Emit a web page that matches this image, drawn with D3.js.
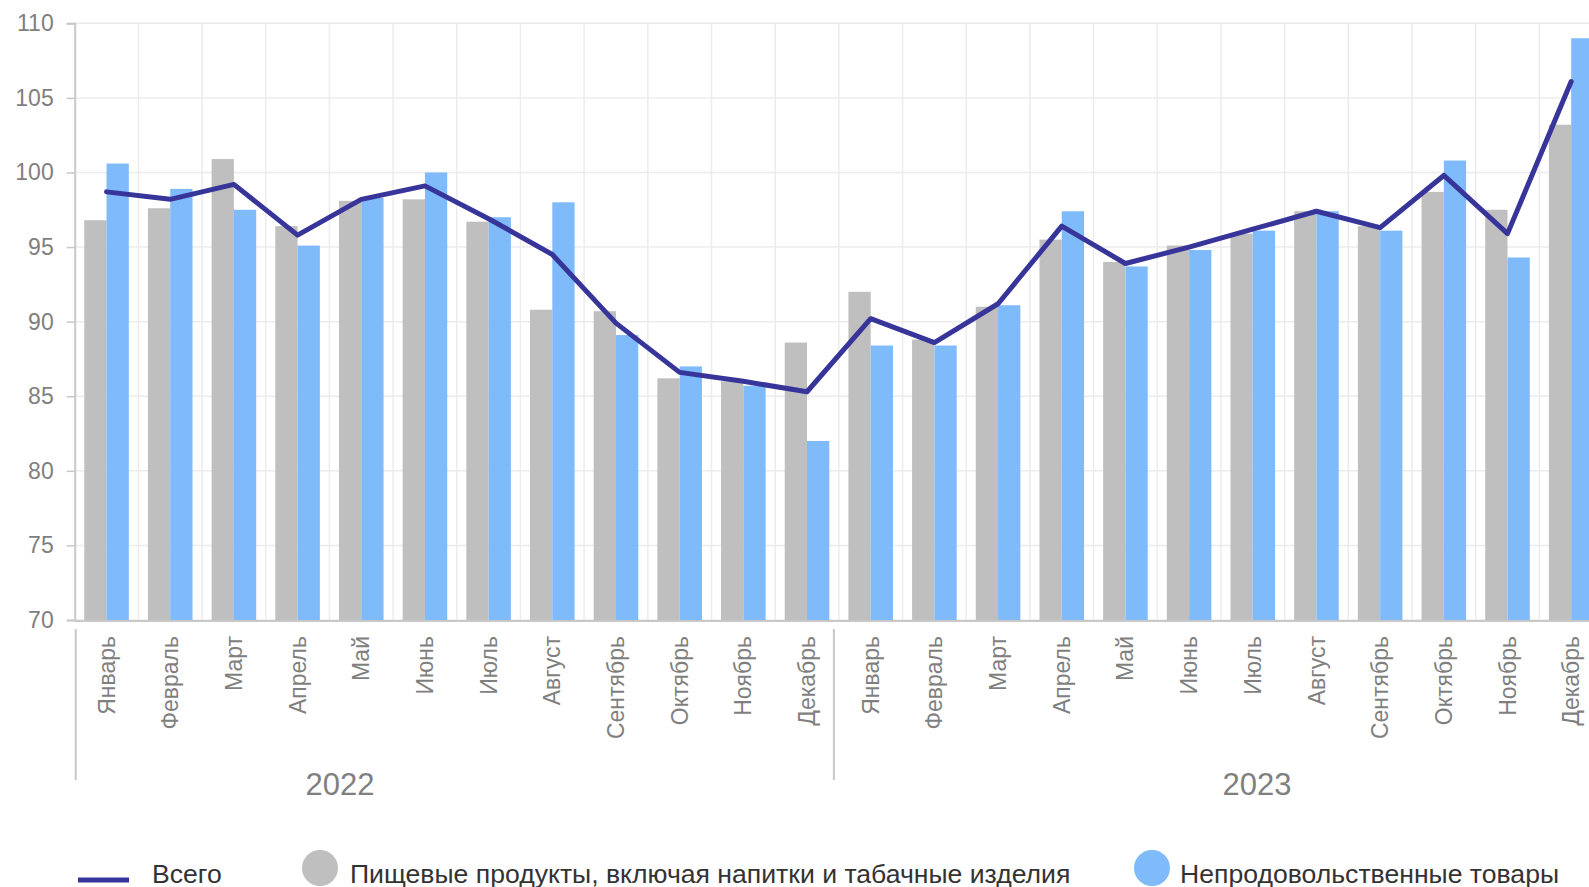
<!DOCTYPE html>
<html>
<head>
<meta charset="utf-8">
<script src="https://cdn.jsdelivr.net/npm/d3@7"></script>
<style>
  body { margin: 0; background: #fff; }
  svg { display: block; font-family: "Liberation Sans", Arial, sans-serif; }
  .grid line { stroke: #ececec; stroke-width: 1.5px; }
  .tick text { fill: #7f7f7f; }
</style>
</head>
<body>
<svg id="chart" width="1589" height="887"></svg>
<script>
var months = ["Январь","Февраль","Март","Апрель","Май","Июнь","Июль","Август","Сентябрь","Октябрь","Ноябрь","Декабрь"];
var years = ["2022","2023"];

// пищевые продукты (серые столбцы)
var food = [96.8, 97.6, 100.9, 96.4, 98.1, 98.2, 96.7, 90.8, 90.7, 86.2, 86.0, 88.6,
            92.0, 88.8, 91.0, 95.5, 94.0, 95.1, 95.9, 97.4, 96.4, 98.7, 97.5, 103.2];
// непродовольственные товары (голубые столбцы)
var nonfood = [100.6, 98.9, 97.5, 95.1, 98.3, 100.0, 97.0, 98.0, 89.1, 87.0, 85.7, 82.0,
               88.4, 88.4, 91.1, 97.4, 93.7, 94.8, 96.1, 97.4, 96.1, 100.8, 94.3, 109.0];
// всего (линия)
var total = [98.7, 98.2, 99.2, 95.8, 98.2, 99.1, 96.9, 94.5, 89.9, 86.6, 86.0, 85.3,
             90.2, 88.6, 91.2, 96.4, 93.9, 95.0, 96.2, 97.4, 96.3, 99.8, 95.9, 106.1];

var yTicks = [70, 75, 80, 85, 90, 95, 100, 105, 110];

var legendNames = ["Всего", "Пищевые продукты, включая напитки и табачные изделия", "Непродовольственные товары"];

var colors = { total: "#37359a", food: "#bfbfbf", nonfood: "#7fbbfa" };

var svg = d3.select("#chart");
var plotLeft = 74.7, step = 63.68, n = food.length;
var plotTop = 23.3, plotBottom = 620;

var idx = d3.range(n);
var x = d3.scaleBand().domain(idx).range([plotLeft, plotLeft + step * n]).paddingInner(0.3).paddingOuter(0.15);
var xs = d3.scaleBand().domain(["food","nonfood"]).range([0, x.bandwidth()]);
var y = d3.scaleLinear().domain([70, 110]).range([plotBottom, plotTop]);

function edge(i){ return plotLeft + i * step; }

// сетка
var grid = svg.append("g").classed("grid", true);
grid.selectAll("line.h").data(yTicks).enter().append("line")
  .attr("x1", plotLeft).attr("x2", 1600)
  .attr("y1", d => y(d)).attr("y2", d => y(d));
grid.selectAll("line.v").data(d3.range(1, n + 1)).enter().append("line")
  .attr("x1", d => edge(d)).attr("x2", d => edge(d))
  .attr("y1", plotTop).attr("y2", plotBottom);

// столбцы
svg.append("g").selectAll("rect").data(idx).enter().append("rect")
  .attr("x", i => x(i) + xs("food"))
  .attr("width", xs.bandwidth())
  .attr("y", i => y(food[i]))
  .attr("height", i => y(70) - y(food[i]))
  .attr("fill", colors.food);

svg.append("g").selectAll("rect").data(idx).enter().append("rect")
  .attr("x", i => x(i) + xs("nonfood"))
  .attr("width", xs.bandwidth())
  .attr("y", i => y(nonfood[i]))
  .attr("height", i => y(70) - y(nonfood[i]))
  .attr("fill", colors.nonfood);

// линия
var line = d3.line().x(i => x(i) + x.bandwidth() / 2).y(i => y(total[i]));
svg.append("path").datum(idx)
  .attr("d", line)
  .attr("fill", "none")
  .attr("stroke", colors.total)
  .attr("stroke-width", 5)
  .attr("stroke-linejoin", "round")
  .attr("stroke-linecap", "round");

// ось Y
var yAxis = d3.axisLeft(y).tickValues(yTicks).tickSize(8).tickPadding(13);
var ya = svg.append("g").attr("transform", "translate(" + plotLeft + ",0)").call(yAxis);
ya.select(".domain").attr("stroke", "#c8c8c8").attr("stroke-width", 2);
ya.selectAll(".tick line").attr("stroke", "#c8c8c8").attr("stroke-width", 1.5);
ya.selectAll(".tick text").style("font-size", "23px").style("font-family", "'Liberation Sans', Arial, sans-serif");

// ось X
svg.append("line")
  .attr("x1", plotLeft).attr("x2", 1600)
  .attr("y1", plotBottom + 1).attr("y2", plotBottom + 1)
  .attr("stroke", "#c8c8c8").attr("stroke-width", 2);

svg.append("g").selectAll("text").data(idx).enter().append("text")
  .attr("transform", i => "translate(" + (x(i) + x.bandwidth() / 2) + ",636) rotate(-90)")
  .attr("dy", "0.35em")
  .attr("text-anchor", "end")
  .attr("fill", "#7f7f7f")
  .style("font-size", "23px")
  .text(i => months[i % 12]);

// разделители лет
var sepX = [edge(0) + 1, edge(12) - 5];
svg.append("g").selectAll("line").data(sepX).enter().append("line")
  .attr("x1", d => d).attr("x2", d => d)
  .attr("y1", 629).attr("y2", 780)
  .attr("stroke", "#c8c8c8").attr("stroke-width", 2);

var yearX = [340, 1257];
svg.append("g").selectAll("text").data(years).enter().append("text")
  .attr("x", (d, i) => yearX[i])
  .attr("y", 795)
  .attr("text-anchor", "middle")
  .attr("fill", "#7f7f7f")
  .style("font-size", "31px")
  .text(d => d);

// легенда
var lg = svg.append("g").style("font-size", "26.6px").attr("fill", "#333");
lg.append("line")
  .attr("x1", 78).attr("x2", 129).attr("y1", 880).attr("y2", 880)
  .attr("stroke", colors.total).attr("stroke-width", 5);
lg.append("text").attr("x", 152).attr("y", 883).text(legendNames[0]);

lg.append("circle").attr("cx", 320).attr("cy", 868).attr("r", 18).attr("fill", colors.food);
lg.append("text").attr("x", 350).attr("y", 883).text(legendNames[1]);

lg.append("circle").attr("cx", 1152).attr("cy", 868).attr("r", 18).attr("fill", colors.nonfood);
lg.append("text").attr("x", 1180).attr("y", 883).text(legendNames[2]);
</script>
</body>
</html>
